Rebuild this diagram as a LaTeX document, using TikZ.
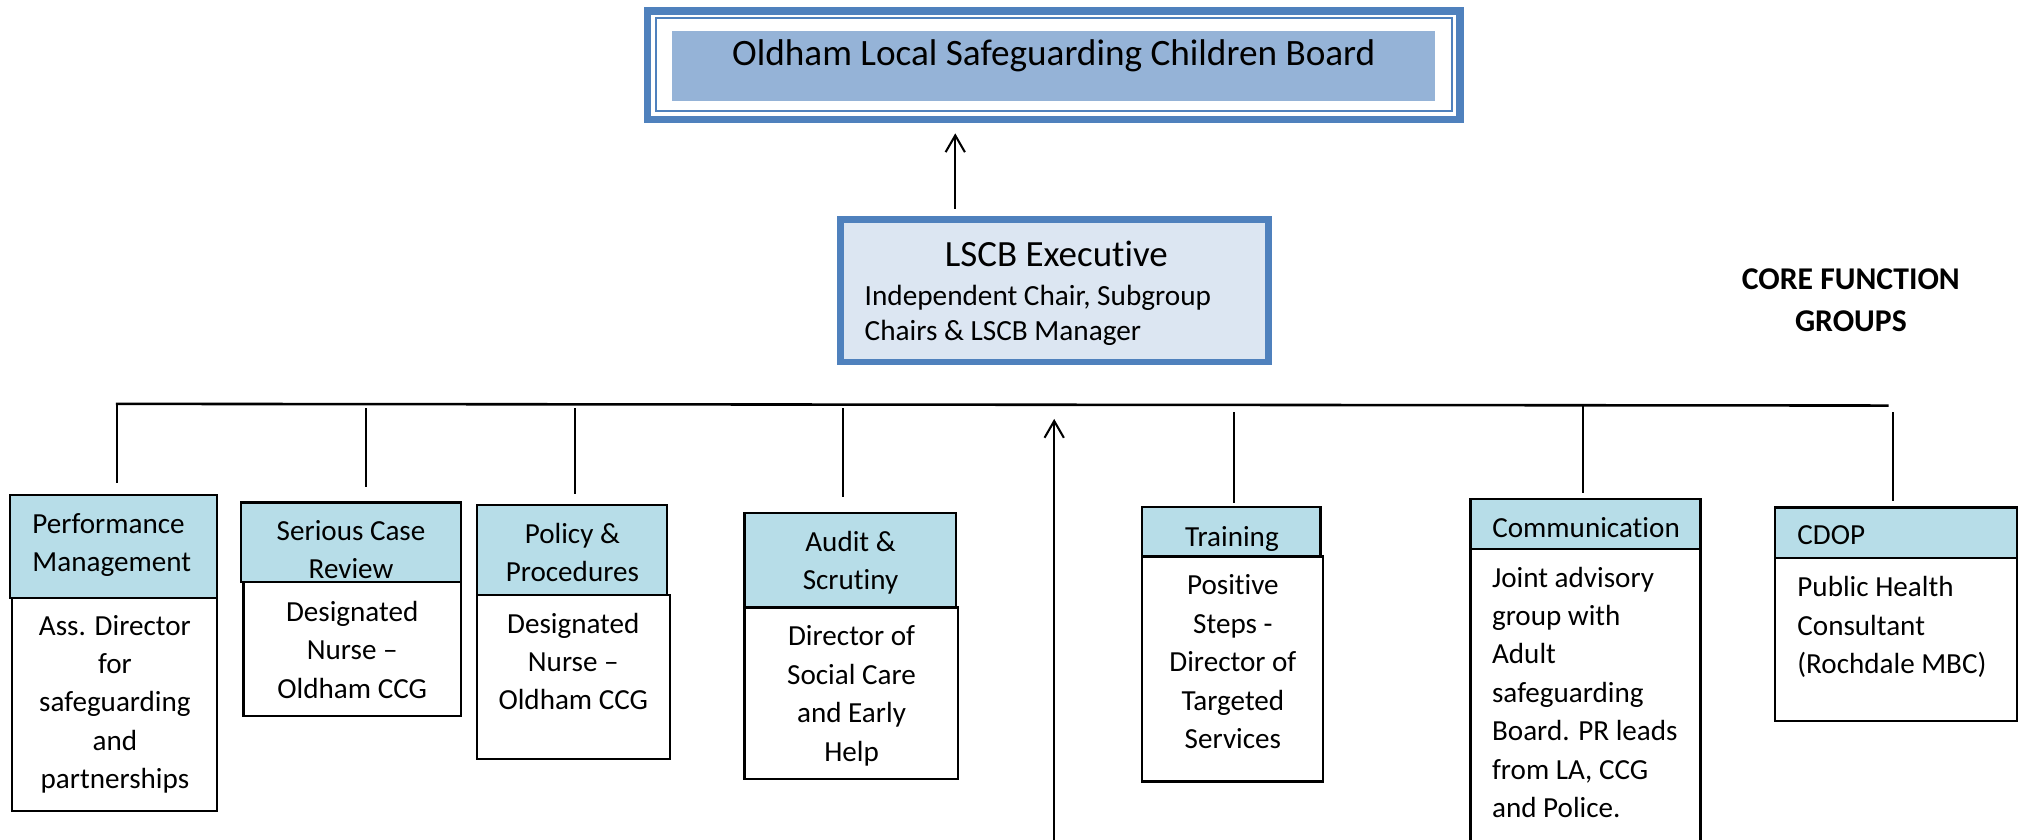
\documentclass[tikz,border=0pt]{standalone}
\usepackage{fontspec}
\setmainfont{Carlito}[Ligatures=CommonOff]
\usetikzlibrary{arrows.meta}
\definecolor{accblue}{HTML}{4F81BD}
\definecolor{topfill}{HTML}{95B3D7}
\definecolor{execfill}{HTML}{DCE6F2}
\definecolor{hdrfill}{HTML}{B7DDE8}
\begin{document}
\begin{tikzpicture}[x=1pt,y=-1pt,
 hdr/.style={draw=black,line width=1.8pt,fill=hdrfill,inner sep=0pt,outer sep=0pt,anchor=north west},
 bdy/.style={draw=black,line width=1.8pt,fill=white,inner sep=0pt,outer sep=0pt,anchor=north west},
 ctext/.style={inner sep=0pt,anchor=base,align=center,font=\fontsize{22.6}{29.8}\selectfont},
 ltext/.style={inner sep=0pt,anchor=base west,align=left,font=\fontsize{22.6}{29.8}\selectfont},
 conn/.style={line width=1.6pt},
 arr/.style={line width=1.8pt,-{Straight Barb[length=13pt,width=15pt,line width=1.6pt]}}]
\useasboundingbox (0,0) rectangle (1568,651.3);

% top board
\node[draw=accblue,line width=6pt,inner sep=0pt,outer sep=0pt,anchor=north west,
      minimum width=630.8pt,minimum height=84.1pt] (top) at (502.6,8.7) {};
\draw[accblue,line width=1.5pt] (509,14.2) rectangle (1127,86);
\fill[topfill] (522,23.8) rectangle (1114,78.2);
\node[inner sep=0pt,anchor=base,font=\fontsize{28.9}{34}\selectfont] (toptxt) at (818,50.5)
  {Oldham Local Safeguarding Children Board};

% executive
\node[draw=accblue,fill=execfill,line width=5pt,inner sep=0pt,outer sep=0pt,anchor=north west,
      minimum width=332pt,minimum height=110.3pt] (exec) at (652.5,170.5) {};
\node[inner sep=0pt,anchor=base,font=\fontsize{28.7}{34}\selectfont] (exectitle) at (820,207) {LSCB Executive};
\node[inner sep=0pt,anchor=base west,align=left,font=\fontsize{22.7}{27.2}\selectfont] (execsub) at (671,264)
  {Independent Chair, Subgroup\\Chairs \& LSCB Manager};

\coordinate (ax) at (741.5,0);
\draw[arr,shorten <=8.5pt,shorten >=10.7pt] (exec.north -| ax) -- (top.south -| ax);

% core function label
\node[inner sep=0pt,anchor=base,align=center,font=\bfseries\fontsize{24.6}{33}\selectfont] (core) at (1436.7,257.5)
  {CORE FUNCTION\\GROUPS};

% bar
\coordinate (barL) at (90,313.5);
\coordinate (barR) at (1466,314.8);
\draw[line width=2pt] (barL) -- (barR);

% bottom arrow
\coordinate (bot) at (818.3,665);
\draw[arr,shorten >=11.7pt] (bot) -- (bot |- barL);

% boxes: bodies
\node[bdy,minimum width=159pt,minimum height=165.5pt] (b1) at (9.5,464) {};
\node[bdy,minimum width=169pt,minimum height=104pt] (b2) at (189,452) {};
\node[bdy,minimum width=150pt,minimum height=127pt] (b3) at (370,462) {};
\node[bdy,minimum width=165.5pt,minimum height=133pt] (b4) at (578,471.5) {};
\node[bdy,minimum width=140.5pt,minimum height=174.5pt] (b5) at (886.5,432) {};
\node[bdy,minimum width=178.5pt,minimum height=260pt] (b6) at (1141.5,426) {};
\node[bdy,minimum width=187.5pt,minimum height=126.5pt] (b7) at (1378,433) {};

% boxes: headers
\node[hdr,minimum width=160.5pt,minimum height=80pt] (h1) at (8,384) {};
\node[hdr,minimum width=171pt,minimum height=62pt] (h2) at (187,390) {};
\node[hdr,minimum width=148pt,minimum height=70pt] (h3) at (370,392) {};
\node[hdr,minimum width=164pt,minimum height=73.5pt] (h4) at (578,398) {};
\node[hdr,minimum width=138.5pt,minimum height=38.5pt] (h5) at (886.5,393.5) {};
\node[hdr,minimum width=178.5pt,minimum height=38.5pt] (h6) at (1141.5,387.5) {};
\node[hdr,minimum width=187.5pt,minimum height=39pt] (h7) at (1378,394) {};

% verticals
\coordinate (v1) at (91,313.6);
\coordinate (v2) at (284,317);
\coordinate (v3) at (446,317);
\coordinate (v4) at (654,317);
\coordinate (v5) at (957.7,320);
\coordinate (v6) at (1228.5,314.4);
\coordinate (v7) at (1469.5,320);
\draw[conn,shorten >=9pt] (v1) -- (v1 |- h1.north);
\draw[conn,shorten >=12pt] (v2) -- (v2 |- h2.north);
\draw[conn,shorten >=8.4pt] (v3) -- (v3 |- h3.north);
\draw[conn,shorten >=12pt] (v4) -- (v4 |- h4.north);
\draw[conn,shorten >=2.7pt] (v5) -- (v5 |- h5.north);
\draw[conn,shorten >=4.5pt] (v6) -- (v6 |- h6.north);
\draw[conn,shorten >=5.3pt] (v7) -- (v7 |- h7.north);

% texts (anchored at the baseline of the last line)
\node[ltext] (t1h) at (25,443.8) {Performance\\Management};
\node[ctext] (t1b) at (89.2,612.2) {Ass. Director\\for\\safeguarding\\and\\partnerships};
\node[ctext] (t2h) at (272.5,449) {Serious Case\\Review};
\node[ctext] (t2b) at (273.4,542) {Designated\\Nurse --\\Oldham CCG};
\node[ctext] (t3h) at (444.3,451.6) {Policy \&\\Procedures};
\node[ctext] (t3b) at (445,551) {Designated\\Nurse --\\Oldham CCG};
\node[ctext] (t4h) at (660.2,457.5) {Audit \&\\Scrutiny};
\node[ctext] (t4b) at (661,590.8) {Director of\\Social Care\\and Early\\Help};
\node[ctext] (t5h) at (956.3,424.4) {Training};
\node[ctext] (t5b) at (957,581) {Positive\\Steps -\\Director of\\Targeted\\Services};
\node[ltext] (t6h) at (1158.2,417.2) {Communication};
\node[ltext] (t6b) at (1158,634.5) {Joint advisory\\group with\\Adult\\safeguarding\\Board. PR leads\\from LA, CCG\\and Police.};
\node[ltext] (t7h) at (1395,423) {CDOP};
\node[ltext] (t7b) at (1395,522.8) {Public Health\\Consultant\\(Rochdale MBC)};
\end{tikzpicture}
\end{document}
